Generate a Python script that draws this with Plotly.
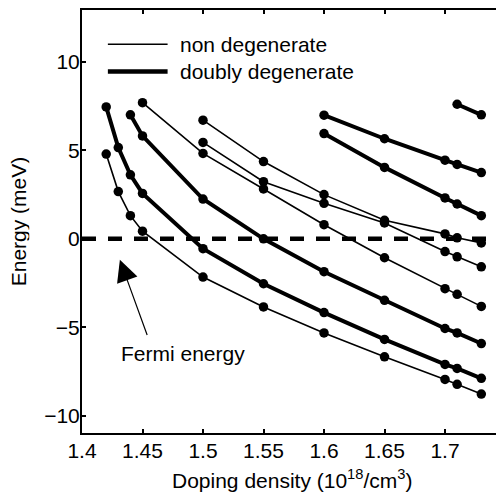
import plotly.graph_objects as go

# ---- data ----
x_a = [1.42, 1.43, 1.44, 1.45, 1.5, 1.55, 1.6, 1.65, 1.7, 1.71, 1.73]
y_a = [7.46, 5.16, 3.62, 2.57, -0.56, -2.54, -4.17, -5.69, -7.10, -7.33, -7.89]   # doubly degenerate
x_b = [1.42, 1.43, 1.44, 1.45, 1.5, 1.55, 1.6, 1.65, 1.7, 1.71, 1.73]
y_b = [4.79, 2.67, 1.31, 0.43, -2.16, -3.85, -5.32, -6.67, -7.95, -8.23, -8.78]   # non degenerate
x_c = [1.44, 1.45, 1.5, 1.55, 1.6, 1.65, 1.7, 1.71, 1.73]
y_c = [7.01, 5.82, 2.25, 0.0, -1.86, -3.48, -5.07, -5.32, -5.92]                  # doubly degenerate
x_d = [1.45, 1.5, 1.55, 1.6, 1.65, 1.7, 1.71, 1.73]
y_d = [7.70, 4.83, 2.82, 0.80, -1.07, -2.82, -3.14, -3.82]                        # non degenerate
x_h = [1.5, 1.55, 1.6, 1.65, 1.7, 1.71, 1.73]
y_h = [6.71, 4.37, 2.50, 1.05, 0.28, 0.06, -0.23]                                 # non degenerate
x_i = [1.5, 1.55, 1.6, 1.65, 1.7, 1.71, 1.73]
y_i = [5.45, 3.23, 2.01, 0.90, -0.72, -1.02, -1.58]                               # non degenerate
x_e = [1.6, 1.65, 1.7, 1.71, 1.73]
y_e = [6.99, 5.66, 4.45, 4.21, 3.75]                                              # doubly degenerate
x_f = [1.6, 1.65, 1.7, 1.71, 1.73]
y_f = [5.95, 4.04, 2.31, 1.97, 1.31]                                              # doubly degenerate
x_g = [1.71, 1.73]
y_g = [7.61, 7.01]                                                                # doubly degenerate

fermi_level = 0.0
x_ticks = [1.4, 1.45, 1.5, 1.55, 1.6, 1.65, 1.7]
x_ticklabels = ["1.4", "1.45", "1.5", "1.55", "1.6", "1.65", "1.7"]
y_ticks = [-10, -5, 0, 5, 10]
y_ticklabels = ["\u221210", "\u22125", "0", "5", "10"]
legend_labels = ["non degenerate", "doubly degenerate"]
x_title = "Doping density (10<sup>18</sup>/cm<sup>3</sup>)"
y_title = "Energy (meV)"

THIN = 1.6
THICK = 4.0
MS = 9.5
FONT = "Liberation Sans, Arial, sans-serif"
FS = 21

series = [
    (x_a, y_a, THICK), (x_b, y_b, THIN), (x_c, y_c, THICK), (x_d, y_d, THIN),
    (x_h, y_h, THIN), (x_i, y_i, THIN), (x_e, y_e, THICK), (x_f, y_f, THICK),
    (x_g, y_g, THICK),
]

fig = go.Figure()
for xs, ys, w in series:
    fig.add_trace(go.Scatter(
        x=xs, y=ys, mode="lines+markers",
        line=dict(color="black", width=w),
        marker=dict(color="black", size=MS),
        showlegend=False, hoverinfo="skip",
    ))

# Fermi level dashed line
fig.add_shape(type="line", xref="paper", yref="y", x0=0, x1=1,
              y0=fermi_level, y1=fermi_level,
              line=dict(color="black", width=4.5, dash="14px,12px"), layer="below")

# legend drawn manually (long line samples)
fig.add_shape(type="line", xref="paper", yref="paper", x0=0.0616, x1=0.2038,
              y0=0.919, y1=0.919, line=dict(color="black", width=1.6))
fig.add_shape(type="line", xref="paper", yref="paper", x0=0.0616, x1=0.2038,
              y0=0.8545, y1=0.8545, line=dict(color="black", width=4.5))
fig.add_annotation(xref="paper", yref="paper", x=0.228, y=0.919, text=legend_labels[0],
                   showarrow=False, xanchor="left", yanchor="middle",
                   font=dict(family=FONT, size=FS, color="black"))
fig.add_annotation(xref="paper", yref="paper", x=0.228, y=0.8545, text=legend_labels[1],
                   showarrow=False, xanchor="left", yanchor="middle",
                   font=dict(family=FONT, size=FS, color="black"))

# Fermi energy arrow + label
fig.add_annotation(x=1.4313, y=-1.19, ax=1.4543, ay=-5.52, xref="x", yref="y",
                   axref="x", ayref="y", text="", showarrow=True,
                   arrowhead=2, arrowsize=3.6, arrowwidth=1.2, arrowcolor="black")
fig.add_annotation(x=1.4305, y=-6.5, xref="x", yref="y", text="Fermi energy",
                   showarrow=False, xanchor="left", yanchor="middle",
                   font=dict(family=FONT, size=FS, color="black"))

# axis titles as annotations (exact placement)
fig.add_annotation(xref="paper", yref="paper", x=0.5, y=-0.1085, text=x_title,
                   showarrow=False, xanchor="center", yanchor="middle",
                   font=dict(family=FONT, size=FS, color="black"))
fig.add_annotation(xref="paper", yref="paper", x=-0.1505, y=0.5, text=y_title,
                   showarrow=False, xanchor="center", yanchor="middle", textangle=-90,
                   height=21, borderpad=0,
                   font=dict(family=FONT, size=FS, color="black"))

axis_common = dict(
    showgrid=False, zeroline=False, showline=True, linecolor="black", linewidth=2,
    mirror="ticks", ticks="inside", ticklen=4, tickwidth=1.5, tickcolor="black",
    tickfont=dict(family=FONT, size=FS, color="black"),
)

fig.update_layout(
    width=496, height=489,
    margin=dict(l=74, r=0, t=1, b=64),
    paper_bgcolor="white", plot_bgcolor="white",
    font=dict(family=FONT, size=FS, color="black"),
    xaxis=dict(range=[1.4, 1.7471], tickvals=x_ticks, ticktext=x_ticklabels,
               ticklabelstandoff=-2, **axis_common),
    yaxis=dict(range=[-10.98, 12.94], tickvals=y_ticks, ticktext=y_ticklabels,
               ticklabelstandoff=-4, **axis_common),
)

fig.write_html("out.html")
